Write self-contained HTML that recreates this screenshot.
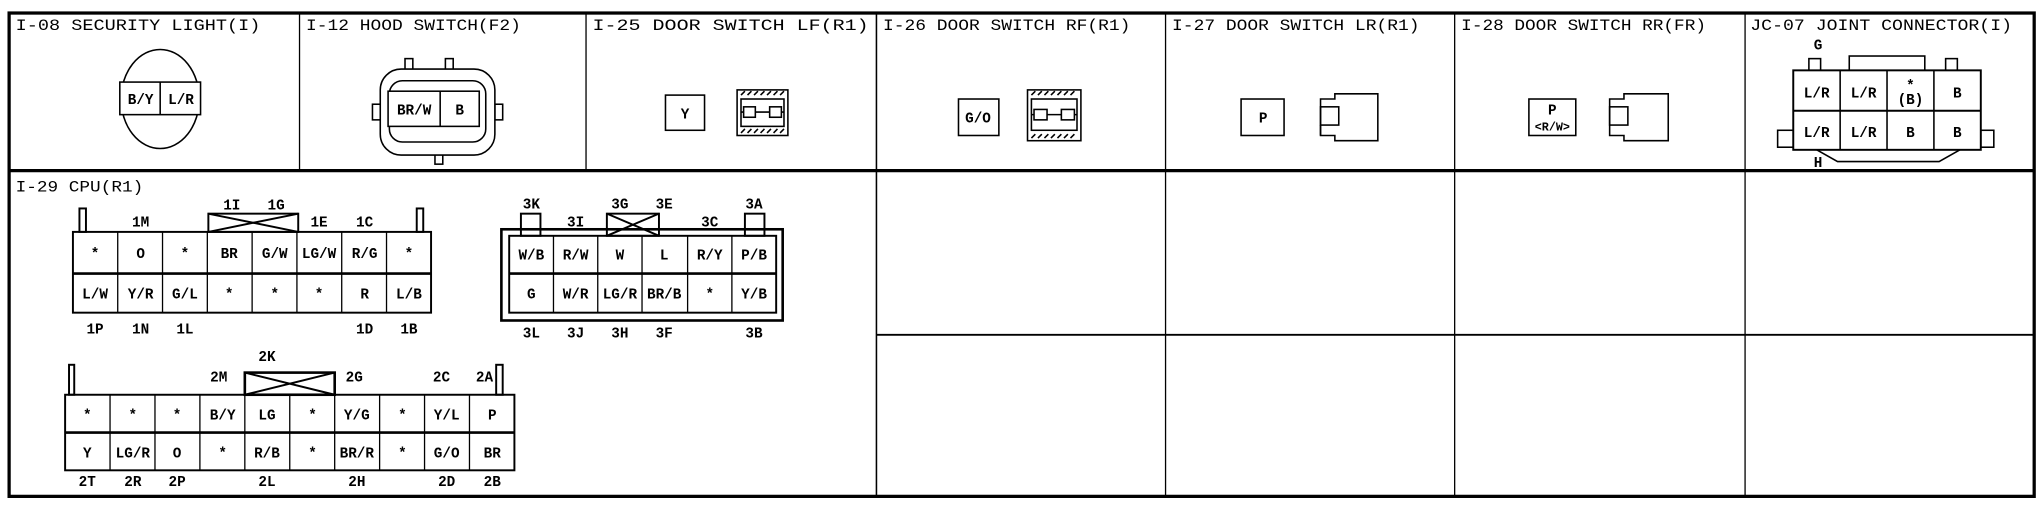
<!DOCTYPE html>
<html><head><meta charset="utf-8"><style>
html,body{margin:0;padding:0;background:#fff;}
svg{display:block;}
text{font-family:"Liberation Mono","DejaVu Sans Mono",monospace;fill:#000;}
.t{font-size:12px;}
.c{font-size:11px;text-anchor:middle;font-weight:bold;}
.l{font-size:11px;text-anchor:middle;font-weight:bold;}
</style></head><body>
<svg width="2042" height="512" viewBox="0 0 1568 393" preserveAspectRatio="none" xmlns="http://www.w3.org/2000/svg">
<rect width="1568" height="393" fill="#fff"/>
<g fill="none" stroke="#000">
<rect x="7" y="10" width="1555" height="371" stroke-width="2.5"/>
<line x1="7" y1="131" x2="1562" y2="131" stroke-width="2.5"/>
<line x1="673" y1="257" x2="1562" y2="257" stroke-width="1.5"/>
<line x1="230" y1="10" x2="230" y2="131" stroke-width="1"/>
<line x1="450" y1="10" x2="450" y2="131" stroke-width="1"/>
<line x1="673" y1="10" x2="673" y2="381" stroke-width="1.2"/>
<line x1="895" y1="10" x2="895" y2="381" stroke-width="1"/>
<line x1="1117" y1="10" x2="1117" y2="381" stroke-width="1"/>
<line x1="1340" y1="10" x2="1340" y2="381" stroke-width="1"/>
</g>
<g class="t">
<text x="12" y="23" textLength="188" lengthAdjust="spacingAndGlyphs">I-08 SECURITY LIGHT(I)</text>
<text x="235" y="23" textLength="165" lengthAdjust="spacingAndGlyphs">I-12 HOOD SWITCH(F2)</text>
<text x="455" y="23" textLength="212" lengthAdjust="spacingAndGlyphs">I-25 DOOR SWITCH LF(R1)</text>
<text x="678" y="23" textLength="190" lengthAdjust="spacingAndGlyphs">I-26 DOOR SWITCH RF(R1)</text>
<text x="900" y="23" textLength="190" lengthAdjust="spacingAndGlyphs">I-27 DOOR SWITCH LR(R1)</text>
<text x="1122" y="23" textLength="188" lengthAdjust="spacingAndGlyphs">I-28 DOOR SWITCH RR(FR)</text>
<text x="1344" y="23" textLength="201" lengthAdjust="spacingAndGlyphs">JC-07 JOINT CONNECTOR(I)</text>
<text x="12" y="147" textLength="98" lengthAdjust="spacingAndGlyphs">I-29 CPU(R1)</text>
</g>
<g fill="none" stroke="#000" stroke-width="1.2">
<!-- I-08 -->
<ellipse cx="123" cy="76" rx="30" ry="38" fill="#fff"/>
<rect x="92" y="63" width="62" height="25" fill="#fff"/>
<line x1="123" y1="63" x2="123" y2="88"/>
<!-- I-12 -->
<rect x="311" y="45" width="6" height="10"/><rect x="342" y="45" width="6" height="10"/>
<rect x="334" y="118" width="6" height="8"/>
<rect x="286" y="80" width="6" height="12"/><rect x="380" y="80" width="6" height="12"/>
<rect x="292" y="53" width="88" height="66" rx="16" fill="#fff"/>
<rect x="299" y="62" width="74" height="47" rx="10"/>
<rect x="298" y="70" width="70" height="27" fill="#fff"/>
<line x1="338" y1="70" x2="338" y2="97"/>
<!-- I-25 -->
<rect x="511" y="73" width="30" height="27"/>
<rect x="566" y="69" width="39" height="35"/>
<rect x="569" y="76" width="33" height="21"/>
<line x1="569" y1="86" x2="602" y2="86"/>
<rect x="571" y="82" width="9" height="8" fill="#fff"/><rect x="591" y="82" width="9" height="8" fill="#fff"/>
<path d="M569 73 l3 -3 M574 73 l3 -3 M579 73 l3 -3 M584 73 l3 -3 M589 73 l3 -3 M594 73 l3 -3 M599 73 l3 -3 M569 102 l3 -3 M574 102 l3 -3 M579 102 l3 -3 M584 102 l3 -3 M589 102 l3 -3 M594 102 l3 -3 M599 102 l3 -3"/>
<!-- I-26 -->
<rect x="736" y="76" width="31" height="28"/>
<rect x="789" y="69" width="41" height="39"/>
<rect x="792" y="76" width="35" height="24"/>
<line x1="792" y1="88" x2="827" y2="88"/>
<rect x="794" y="84" width="10" height="8" fill="#fff"/><rect x="815" y="84" width="10" height="8" fill="#fff"/>
<path d="M792 73 l3 -3 M797 73 l3 -3 M802 73 l3 -3 M807 73 l3 -3 M812 73 l3 -3 M817 73 l3 -3 M822 73 l3 -3 M792 106 l3 -3 M797 106 l3 -3 M802 106 l3 -3 M807 106 l3 -3 M812 106 l3 -3 M817 106 l3 -3 M822 106 l3 -3"/>
<!-- I-27 -->
<rect x="953" y="76" width="33" height="28"/>
<path d="M1014 76 H1025 V72 H1058 V108 H1025 V104 H1014 Z"/>
<rect x="1014" y="82" width="14" height="14"/>
<line x1="1014" y1="96" x2="1014" y2="104"/>
<!-- I-28 -->
<rect x="1174" y="76" width="36" height="28"/>
<path d="M1236 76 H1247 V72 H1281 V108 H1247 V104 H1236 Z"/>
<rect x="1236" y="82" width="14" height="14"/>
<!-- JC-07 -->
<rect x="1389" y="45" width="9" height="10"/><rect x="1494" y="45" width="9" height="10"/>
<rect x="1420" y="43" width="58" height="12"/>
<rect x="1365" y="100" width="13" height="13"/><rect x="1521" y="100" width="10" height="13"/>
<path d="M1395 115 L1411 124 H1489 L1505 115"/>
<rect x="1377" y="54" width="144" height="61" fill="#fff" stroke-width="1.5"/>
<line x1="1377" y1="85" x2="1521" y2="85" stroke-width="1.5"/>
<line x1="1413" y1="54" x2="1413" y2="115"/><line x1="1449" y1="54" x2="1449" y2="115"/><line x1="1485" y1="54" x2="1485" y2="115"/>
</g>
<g class="c">
<text x="108" y="80">B/Y</text><text x="139" y="80">L/R</text>
<text x="318" y="88">BR/W</text><text x="353" y="88">B</text>
<text x="526" y="91">Y</text>
<text x="751" y="94">G/O</text>
<text x="970" y="94">P</text>
<text x="1192" y="88">P</text><text x="1192" y="100" style="font-size:9px">&lt;R/W&gt;</text>
<text x="1395" y="75">L/R</text><text x="1431" y="75">L/R</text><text x="1467" y="69">*</text><text x="1467" y="80">(B)</text><text x="1503" y="75">B</text>
<text x="1395" y="105">L/R</text><text x="1431" y="105">L/R</text><text x="1467" y="105">B</text><text x="1503" y="105">B</text>
<text x="1396" y="38">G</text><text x="1396" y="128">H</text>
</g>

<!-- I-29 connector 1 -->
<g fill="none" stroke="#000" stroke-width="1.5">
<rect x="61" y="160" width="5" height="18"/><rect x="320" y="160" width="5" height="18"/>
<rect x="160" y="164" width="69" height="14"/><path d="M160 164 L229 178 M229 164 L160 178"/>
<rect x="56" y="178" width="275" height="62"/>
<line x1="56" y1="210" x2="331" y2="210" stroke-width="2"/>
<path d="M90.4 178V240M124.8 178V240M159.2 178V240M193.6 178V240M228 178V240M262.4 178V240M296.8 178V240" stroke-width="1"/>
<!-- connector 3 -->
<rect x="400" y="164" width="15" height="17"/><rect x="572" y="164" width="15" height="17"/>
<rect x="466" y="164" width="40" height="17"/><path d="M466 164 L506 181 M506 164 L466 181"/>
<rect x="385" y="176" width="216" height="70" stroke-width="2"/>
<rect x="391" y="181" width="205" height="59"/>
<line x1="391" y1="210" x2="596" y2="210" stroke-width="2"/>
<path d="M425 181V240M459 181V240M493 181V240M528 181V240M562 181V240" stroke-width="1"/>
<!-- connector 2 -->
<rect x="53" y="280" width="4" height="23"/><rect x="381" y="280" width="5" height="23"/>
<rect x="188" y="286" width="69" height="17" stroke-width="2"/><path d="M188 286 L257 303 M257 286 L188 303"/>
<rect x="50" y="303" width="345" height="58"/>
<line x1="50" y1="332" x2="395" y2="332" stroke-width="2"/>
<path d="M84.5 303V361M119 303V361M153.5 303V361M188 303V361M222.5 303V361M257 303V361M291.5 303V361M326 303V361M360.5 303V361" stroke-width="1"/>
</g>
<g class="c">
<text x="73" y="198">*</text><text x="108" y="198">O</text><text x="142" y="198">*</text><text x="176" y="198">BR</text><text x="211" y="198">G/W</text><text x="245" y="198">LG/W</text><text x="280" y="198">R/G</text><text x="314" y="198">*</text>
<text x="73" y="229">L/W</text><text x="108" y="229">Y/R</text><text x="142" y="229">G/L</text><text x="176" y="229">*</text><text x="211" y="229">*</text><text x="245" y="229">*</text><text x="280" y="229">R</text><text x="314" y="229">L/B</text>
<text x="408" y="199">W/B</text><text x="442" y="199">R/W</text><text x="476" y="199">W</text><text x="510" y="199">L</text><text x="545" y="199">R/Y</text><text x="579" y="199">P/B</text>
<text x="408" y="229">G</text><text x="442" y="229">W/R</text><text x="476" y="229">LG/R</text><text x="510" y="229">BR/B</text><text x="545" y="229">*</text><text x="579" y="229">Y/B</text>
<text x="67" y="322">*</text><text x="102" y="322">*</text><text x="136" y="322">*</text><text x="171" y="322">B/Y</text><text x="205" y="322">LG</text><text x="240" y="322">*</text><text x="274" y="322">Y/G</text><text x="309" y="322">*</text><text x="343" y="322">Y/L</text><text x="378" y="322">P</text>
<text x="67" y="351">Y</text><text x="102" y="351">LG/R</text><text x="136" y="351">O</text><text x="171" y="351">*</text><text x="205" y="351">R/B</text><text x="240" y="351">*</text><text x="274" y="351">BR/R</text><text x="309" y="351">*</text><text x="343" y="351">G/O</text><text x="378" y="351">BR</text>
</g>
<g class="l">
<text x="108" y="174">1M</text><text x="178" y="161">1I</text><text x="212" y="161">1G</text><text x="245" y="174">1E</text><text x="280" y="174">1C</text>
<text x="73" y="256">1P</text><text x="108" y="256">1N</text><text x="142" y="256">1L</text><text x="280" y="256">1D</text><text x="314" y="256">1B</text>
<text x="408" y="160">3K</text><text x="442" y="174">3I</text><text x="476" y="160">3G</text><text x="510" y="160">3E</text><text x="545" y="174">3C</text><text x="579" y="160">3A</text>
<text x="408" y="259">3L</text><text x="442" y="259">3J</text><text x="476" y="259">3H</text><text x="510" y="259">3F</text><text x="579" y="259">3B</text>
<text x="205" y="277">2K</text><text x="168" y="293">2M</text><text x="272" y="293">2G</text><text x="339" y="293">2C</text><text x="372" y="293">2A</text>
<text x="67" y="373">2T</text><text x="102" y="373">2R</text><text x="136" y="373">2P</text><text x="205" y="373">2L</text><text x="274" y="373">2H</text><text x="343" y="373">2D</text><text x="378" y="373">2B</text>
</g>
</svg>
</body></html>
